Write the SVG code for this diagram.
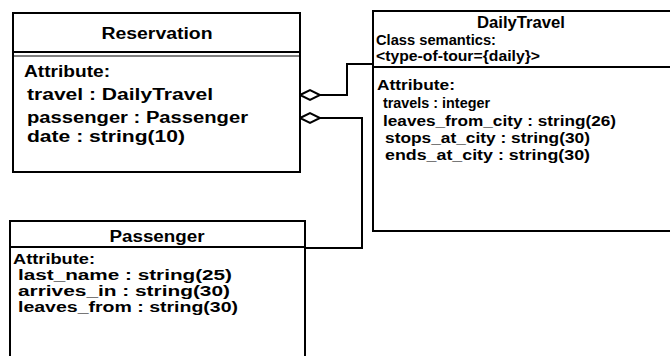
<svg xmlns="http://www.w3.org/2000/svg" width="670" height="356" viewBox="0 0 670 356">
<style>
.box{fill:#fff;stroke:#000;stroke-width:2}
.sep{stroke:#000;stroke-width:2;fill:none}
.t{font-family:"Liberation Sans",Arial,sans-serif;font-weight:bold;font-size:16px;fill:#000}
.s{font-size:15px}
.p{font-size:14px}
.c{stroke:#000;stroke-width:2;fill:none}
.d{fill:#fff;stroke:#000;stroke-width:2}
</style>
<rect width="670" height="356" fill="#fff"/>
<g id="connectors">
<polyline class="c" points="320,95 347,95 347,64 373,64"/>
<polyline class="c" points="320,118 362,118 362,248 305,248"/>
<path class="d" d="M300,95 L310,90 L320,95 L310,100 Z"/>
<path class="d" d="M300,118 L310,113 L320,118 L310,123 Z"/>
</g>
<g id="Reservation">
<rect class="box" x="13" y="13" width="287" height="159"/>
<line class="sep" x1="13" y1="52" x2="300" y2="52"/>
<line class="sep" x1="13" y1="56" x2="300" y2="56" style="stroke-width:1.2"/>
<text class="t" x="157" y="39" text-anchor="middle" textLength="111" lengthAdjust="spacingAndGlyphs">Reservation</text>
<text class="t" x="24" y="77" textLength="86" lengthAdjust="spacingAndGlyphs">Attribute:</text>
<text class="t" x="27" y="100" textLength="186" lengthAdjust="spacingAndGlyphs">travel : DailyTravel</text>
<text class="t" x="27" y="123" textLength="221" lengthAdjust="spacingAndGlyphs">passenger : Passenger</text>
<text class="t" x="27" y="142" textLength="158" lengthAdjust="spacingAndGlyphs">date : string(10)</text>
</g>
<g id="DailyTravel">
<rect class="box" x="373" y="11" width="310" height="220"/>
<line class="sep" x1="373" y1="67" x2="683" y2="67"/>
<text class="t" x="521" y="28" text-anchor="middle" textLength="88" lengthAdjust="spacingAndGlyphs">DailyTravel</text>
<text class="t s" x="376" y="45" textLength="120" lengthAdjust="spacingAndGlyphs">Class semantics:</text>
<text class="t s" x="376" y="61" textLength="164" lengthAdjust="spacingAndGlyphs">&lt;type-of-tour={daily}&gt;</text>
<text class="t s" x="377" y="90" textLength="78" lengthAdjust="spacingAndGlyphs">Attribute:</text>
<text class="t s" x="383" y="108" textLength="107" lengthAdjust="spacingAndGlyphs">travels : integer</text>
<text class="t s" x="383" y="126" textLength="233" lengthAdjust="spacingAndGlyphs">leaves_from_city : string(26)</text>
<text class="t s" x="385" y="143" textLength="205" lengthAdjust="spacingAndGlyphs">stops_at_city : string(30)</text>
<text class="t s" x="385" y="160" textLength="205" lengthAdjust="spacingAndGlyphs">ends_at_city : string(30)</text>
</g>
<g id="Passenger">
<rect class="box" x="10" y="221" width="295" height="140"/>
<line class="sep" x1="10" y1="247" x2="305" y2="247"/>
<text class="t" x="157" y="242" text-anchor="middle" textLength="95" lengthAdjust="spacingAndGlyphs">Passenger</text>
<text class="t p" x="13" y="264" textLength="82" lengthAdjust="spacingAndGlyphs">Attribute:</text>
<text class="t p" x="18" y="280" textLength="214" lengthAdjust="spacingAndGlyphs">last_name : string(25)</text>
<text class="t p" x="18" y="296" textLength="212" lengthAdjust="spacingAndGlyphs">arrives_in : string(30)</text>
<text class="t p" x="18" y="312" textLength="220" lengthAdjust="spacingAndGlyphs">leaves_from : string(30)</text>
</g>
</svg>
